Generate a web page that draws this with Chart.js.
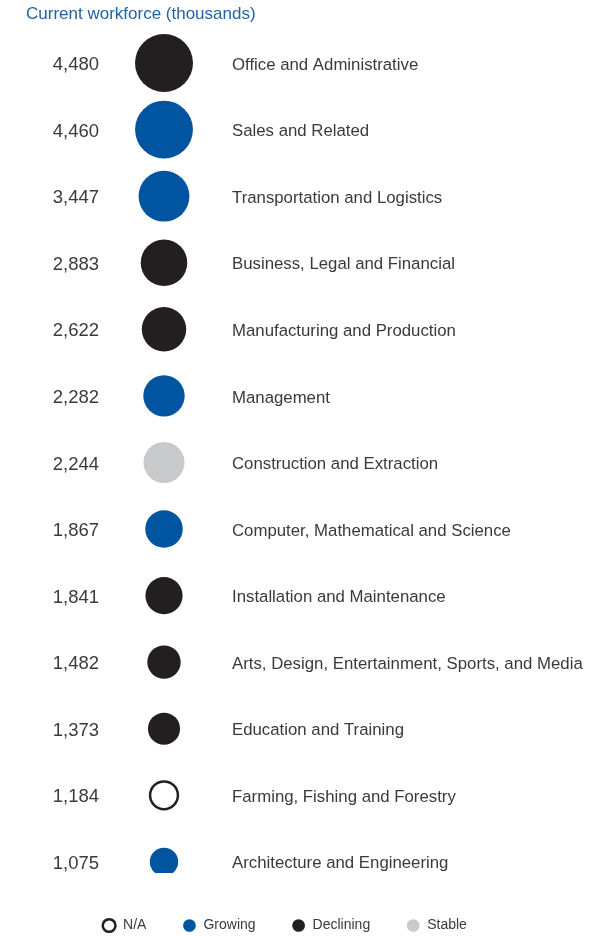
<!DOCTYPE html>
<html>
<head>
<meta charset="utf-8">
<script src="https://cdn.jsdelivr.net/npm/chart.js@4.4.1/dist/chart.umd.min.js"></script>
<style>
  html, body { margin: 0; padding: 0; background: #fff; }
  #wrap { width: 602px; height: 936px; position: relative; }
</style>
</head>
<body>
<div id="wrap"><canvas id="myChart"></canvas></div>
<script>
// Occupation groups, current workforce in thousands
const occupations = [
  "Office and Administrative",
  "Sales and Related",
  "Transportation and Logistics",
  "Business, Legal and Financial",
  "Manufacturing and Production",
  "Management",
  "Construction and Extraction",
  "Computer, Mathematical and Science",
  "Installation and Maintenance",
  "Arts, Design, Entertainment, Sports, and Media",
  "Education and Training",
  "Farming, Fishing and Forestry",
  "Architecture and Engineering",
];
const workforce = [4480, 4460, 3447, 2883, 2622, 2282, 2244, 1867, 1841, 1482, 1373, 1184, 1075];
const outlook = [
  "Declining", "Growing", "Growing", "Declining", "Declining", "Growing", "Stable",
  "Growing", "Declining", "Declining", "Declining", "N/A", "Growing",
];
const statuses = ["N/A", "Growing", "Declining", "Stable"];

const BLUE = "#0054a0",
  BLACK = "#231f20",
  GRAY = "#c8c9cb",
  TEXT = "#3a3a3a";
const FONT = "'Liberation Sans', Arial, sans-serif";

const fillFor = (s) =>
  s === "Growing" ? BLUE : s === "Declining" ? BLACK : s === "Stable" ? GRAY : "#ffffff";

// bubble area scales with workforce; biggest is 29px radius
const maxR = 29;
const maxV = Math.max(...workforce);

const points = workforce.map((v, i) => ({
  x: 0.5,
  y: i,
  r: maxR * Math.sqrt(v / maxV) - (outlook[i] === "N/A" ? 1 : 0),
}));

const rowTicks = (scale) => {
  scale.ticks = occupations.map((_, i) => ({ value: i }));
};

const yMin = -0.49,
  yMax = 12.31;
// text rows sit a couple of pixels below the bubble centres
const textShift = 0.03;

// legend sits a little left of centre
const legendShift = {
  id: "legendShift",
  afterLayout(chart) {
    chart.legend.left -= 29.5;
    chart.legend.right -= 29.5;
  },
};

const rowAxis = (position, width, padding, size, label) => ({
  position,
  reverse: true,
  min: yMin - textShift,
  max: yMax - textShift,
  afterBuildTicks: rowTicks,
  afterFit: (scale) => {
    scale.width = width;
  },
  grid: { display: false, drawTicks: false, tickLength: 0 },
  border: { display: false },
  ticks: {
    autoSkip: false,
    padding,
    color: TEXT,
    font: { family: FONT, size },
    callback: label,
  },
});

const ctx = document.getElementById("myChart");

new Chart(ctx, {
  type: "bubble",
  data: {
    datasets: [
      {
        data: points,
        backgroundColor: outlook.map(fillFor),
        borderColor: outlook.map((s) => (s === "N/A" ? BLACK : "rgba(0,0,0,0)")),
        borderWidth: outlook.map((s) => (s === "N/A" ? 2.5 : 0)),
        clip: { left: false, top: false, right: false, bottom: -9.5 },
      },
    ],
  },
  plugins: [legendShift],
  options: {
    responsive: true,
    maintainAspectRatio: false,
    animation: false,
    events: [],
    layout: { padding: { left: 26, right: 0, top: 0, bottom: -6.5 } },
    plugins: {
      title: {
        display: true,
        text: "Current workforce (thousands)",
        align: "start",
        color: "#2462a8",
        font: { family: FONT, size: 17, weight: "normal" },
        padding: { top: 4, bottom: 6 },
      },
      legend: {
        display: true,
        position: "bottom",
        labels: {
          usePointStyle: true,
          boxWidth: 14,
          boxHeight: 9,
          padding: 36,
          color: TEXT,
          font: { family: FONT, size: 14 },
          generateLabels: () =>
            statuses.map((s) => ({
              text: s,
              fillStyle: fillFor(s),
              strokeStyle: s === "N/A" ? BLACK : fillFor(s),
              lineWidth: s === "N/A" ? 2.5 : 0,
              pointStyle: "circle",
              fontColor: TEXT,
            })),
        },
      },
      tooltip: { enabled: false },
    },
    scales: {
      x: { display: false, min: 0, max: 1 },
      y: { display: false, reverse: true, min: yMin, max: yMax },
      yValues: rowAxis("left", 79, 6, 18.5, (v) =>
        workforce[v] !== undefined ? workforce[v].toLocaleString("en-US") : ""
      ),
      yNames: rowAxis("right", 379, 9, 16.8, (v) =>
        occupations[v] !== undefined ? occupations[v] : ""
      ),
    },
  },
});
</script>
</body>
</html>
